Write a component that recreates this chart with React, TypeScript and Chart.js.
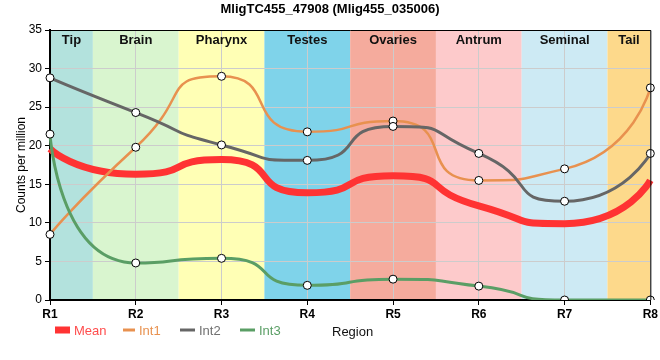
import React, { useEffect, useRef } from "react";
import { Chart, registerables } from "chart.js";

Chart.register(...registerables);

const titleText = "MligTC455_47908 (Mlig455_035006)";
const regions = ["R1", "R2", "R3", "R4", "R5", "R6", "R7", "R8"];
const meanValues = [19.6, 16.3, 18.2, 13.9, 16.1, 12.2, 9.9, 15.5];
const int1Values = [8.5, 19.8, 29.0, 21.8, 23.2, 15.5, 17.0, 27.5];
const int2Values = [28.8, 24.3, 20.1, 18.1, 22.5, 19.0, 12.8, 19.0];
const int3Values = [21.5, 4.8, 5.4, 1.9, 2.7, 1.8, 0, 0];
const bandNames = ["Tip", "Brain", "Pharynx", "Testes", "Ovaries", "Antrum", "Seminal", "Tail"];
const bandColors = ["#b3e2dd", "#d9f5cf", "#ffffb5", "#7fd3ea", "#f5ab9d", "#fdcacb", "#cdeaf4", "#fdd98b"];
const seriesNames = ["Mean", "Int1", "Int2", "Int3"];
const seriesColors = ["#ff3333", "#e8914f", "#666666", "#5a9e65"];
const legendTextColors = ["#ff4d4d", "#e8914f", "#707070", "#5a9e65"];

const FONT = "'Liberation Sans', Arial, sans-serif";
const SMOOTH = 0.7;

const clamp = (v: number, a: number, b: number) => Math.min(Math.max(v, Math.min(a, b)), Math.max(a, b));

// smooth curve with extreme-preserving control points, applied to the library's own point elements
const smoothPlugin = {
  id: "smoothCurve",
  beforeDatasetsDraw(chart: any) {
    chart.getSortedVisibleDatasetMetas().forEach((meta: any) => {
      const line = meta.dataset;
      if (!line) return;
      line.updateControlPoints(chart.chartArea, "x");
      const pts = meta.data;
      const n = pts.length;
      if (n < 3) return;
      pts[0].cp1x = pts[0].x; pts[0].cp1y = pts[0].y;
      pts[0].cp2x = pts[0].x; pts[0].cp2y = pts[0].y;
      pts[n - 1].cp1x = pts[n - 1].x; pts[n - 1].cp1y = pts[n - 1].y;
      pts[n - 1].cp2x = pts[n - 1].x; pts[n - 1].cp2y = pts[n - 1].y;
      for (let i = 1; i < n - 1; i++) {
        const p = pts[i - 1], c = pts[i], q = pts[i + 1];
        const vx = q.x - p.x, vy = q.y - p.y;
        const lenPrev = Math.hypot(c.x - p.x, c.y - p.y) || 1;
        const lenNext = Math.hypot(q.x - c.x, q.y - c.y) || 1;
        const ratio = lenNext / (lenNext + lenPrev);
        let ox = c.x + vx * SMOOTH * ratio;
        let oy = c.y + vy * SMOOTH * ratio;
        ox = clamp(ox, q.x, c.x);
        oy = clamp(oy, q.y, c.y);
        let ix = c.x - (ox - c.x) * lenPrev / lenNext;
        let iy = c.y - (oy - c.y) * lenPrev / lenNext;
        ix = clamp(ix, p.x, c.x);
        iy = clamp(iy, p.y, c.y);
        ox = c.x + (c.x - ix) * lenNext / lenPrev;
        oy = c.y + (c.y - iy) * lenNext / lenPrev;
        c.cp1x = ix; c.cp1y = iy;
        c.cp2x = ox; c.cp2y = oy;
      }
      line._path = undefined;
    });
  },
};

const decorPlugin = {
  id: "decor",
  beforeDraw(chart: any) {
    const { ctx, chartArea, scales } = chart;
    const x = scales.x;
    ctx.save();
    bandNames.forEach((_, i) => {
      const l = Math.max(chartArea.left, x.getPixelForValue(i - 0.5));
      const r = Math.min(chartArea.right, x.getPixelForValue(i + 0.5));
      ctx.fillStyle = bandColors[i];
      ctx.fillRect(l, chartArea.top, r - l, chartArea.bottom - chartArea.top);
    });
    ctx.restore();
  },
  afterDraw(chart: any) {
    const { ctx, chartArea, scales } = chart;
    const x = scales.x;
    ctx.save();
    ctx.font = `bold 13px ${FONT}`;
    ctx.fillStyle = "#111";
    ctx.textAlign = "center";
    ctx.textBaseline = "middle";
    bandNames.forEach((name, i) => {
      const l = Math.max(chartArea.left, x.getPixelForValue(i - 0.5));
      const r = Math.min(chartArea.right, x.getPixelForValue(i + 0.5));
      ctx.fillText(name, (l + r) / 2, chartArea.top + 10);
    });
    ctx.strokeStyle = "#000";
    ctx.lineWidth = 1;
    ctx.beginPath();
    ctx.moveTo(chartArea.left, chartArea.top + 0.5);
    ctx.lineTo(chartArea.right + 0.5, chartArea.top + 0.5);
    ctx.lineTo(chartArea.right + 0.5, chartArea.bottom);
    ctx.stroke();
    ctx.font = `bold 13px ${FONT}`;
    ctx.fillStyle = "#000";
    ctx.fillText(titleText, 330, 9);
    const ly = 330;
    ctx.font = `13px ${FONT}`;
    ctx.textAlign = "left";
    const items = [
      { x0: 55, x1: 70, tx: 74 },
      { x0: 123, x1: 135, tx: 139 },
      { x0: 180, x1: 195, tx: 199 },
      { x0: 240, x1: 255, tx: 259 },
    ];
    items.forEach((it, i) => {
      ctx.strokeStyle = seriesColors[i];
      ctx.lineWidth = i === 0 ? 7 : 3;
      ctx.beginPath();
      ctx.moveTo(it.x0, ly);
      ctx.lineTo(it.x1, ly);
      ctx.stroke();
      ctx.fillStyle = legendTextColors[i];
      ctx.fillText(seriesNames[i], it.tx, ly + 1);
    });
    ctx.fillStyle = "#111";
    ctx.fillText("Region", 332, ly + 2);
    ctx.restore();
  },
};

export default function App() {
  const ref = useRef<HTMLCanvasElement | null>(null);
  useEffect(() => {
    document.body.style.margin = "0";
    const canvas = ref.current!;
    const pointOpts = {
      pointRadius: 4,
      pointHoverRadius: 4,
      pointBackgroundColor: "#ffffff",
      pointBorderColor: "#000000",
      pointBorderWidth: 1,
    };
    const chart = new Chart(canvas, {
      type: "line",
      data: {
        labels: regions,
        datasets: [
          {
            label: seriesNames[0],
            data: meanValues,
            borderColor: seriesColors[0],
            backgroundColor: seriesColors[0],
            borderWidth: 7,
            pointRadius: 0,
            cubicInterpolationMode: "monotone",
            order: 10,
          },
          {
            label: seriesNames[1],
            data: int1Values,
            borderColor: seriesColors[1],
            backgroundColor: seriesColors[1],
            borderWidth: 2.5,
            cubicInterpolationMode: "monotone",
            order: 3,
            ...pointOpts,
          },
          {
            label: seriesNames[2],
            data: int2Values,
            borderColor: seriesColors[2],
            backgroundColor: seriesColors[2],
            borderWidth: 3,
            cubicInterpolationMode: "monotone",
            order: 2,
            ...pointOpts,
          },
          {
            label: seriesNames[3],
            data: int3Values,
            borderColor: seriesColors[3],
            backgroundColor: seriesColors[3],
            borderWidth: 3,
            cubicInterpolationMode: "monotone",
            order: 1,
            ...pointOpts,
          },
        ],
      },
      options: {
        animation: false,
        responsive: false,
        maintainAspectRatio: false,
        layout: { padding: { left: 12, right: 8, top: 30, bottom: 40 } },
        plugins: {
          legend: { display: false },
          title: { display: false },
          tooltip: { enabled: false },
        },
        scales: {
          x: {
            offset: false,
            grid: { color: "#cccccc", tickColor: "#000", tickLength: 5, offset: false },
            border: { color: "#000", width: 2 },
            ticks: { color: "#000", font: { family: FONT, size: 12, weight: "bold" }, padding: 2, maxRotation: 0 },
            afterFit: (s: any) => {
              s.height = 20;
            },
          },
          y: {
            min: 0,
            max: 35,
            grid: { color: "#cccccc", tickColor: "#000", tickLength: 5 },
            border: { color: "#000", width: 2 },
            ticks: { stepSize: 5, color: "#000", font: { family: FONT, size: 12 }, padding: 3 },
            title: {
              display: true,
              text: "Counts per million",
              color: "#000",
              font: { family: FONT, size: 12 },
              padding: { top: 2, bottom: 0 },
            },
            afterFit: (s: any) => {
              s.width = 38;
            },
          },
        },
      },
      plugins: [decorPlugin, smoothPlugin],
    } as any);
    return () => chart.destroy();
  }, []);
  return (
    <div style={{ width: 660, height: 360 }}>
      <canvas ref={ref} width={660} height={360} style={{ display: "block" }} />
    </div>
  );
}
